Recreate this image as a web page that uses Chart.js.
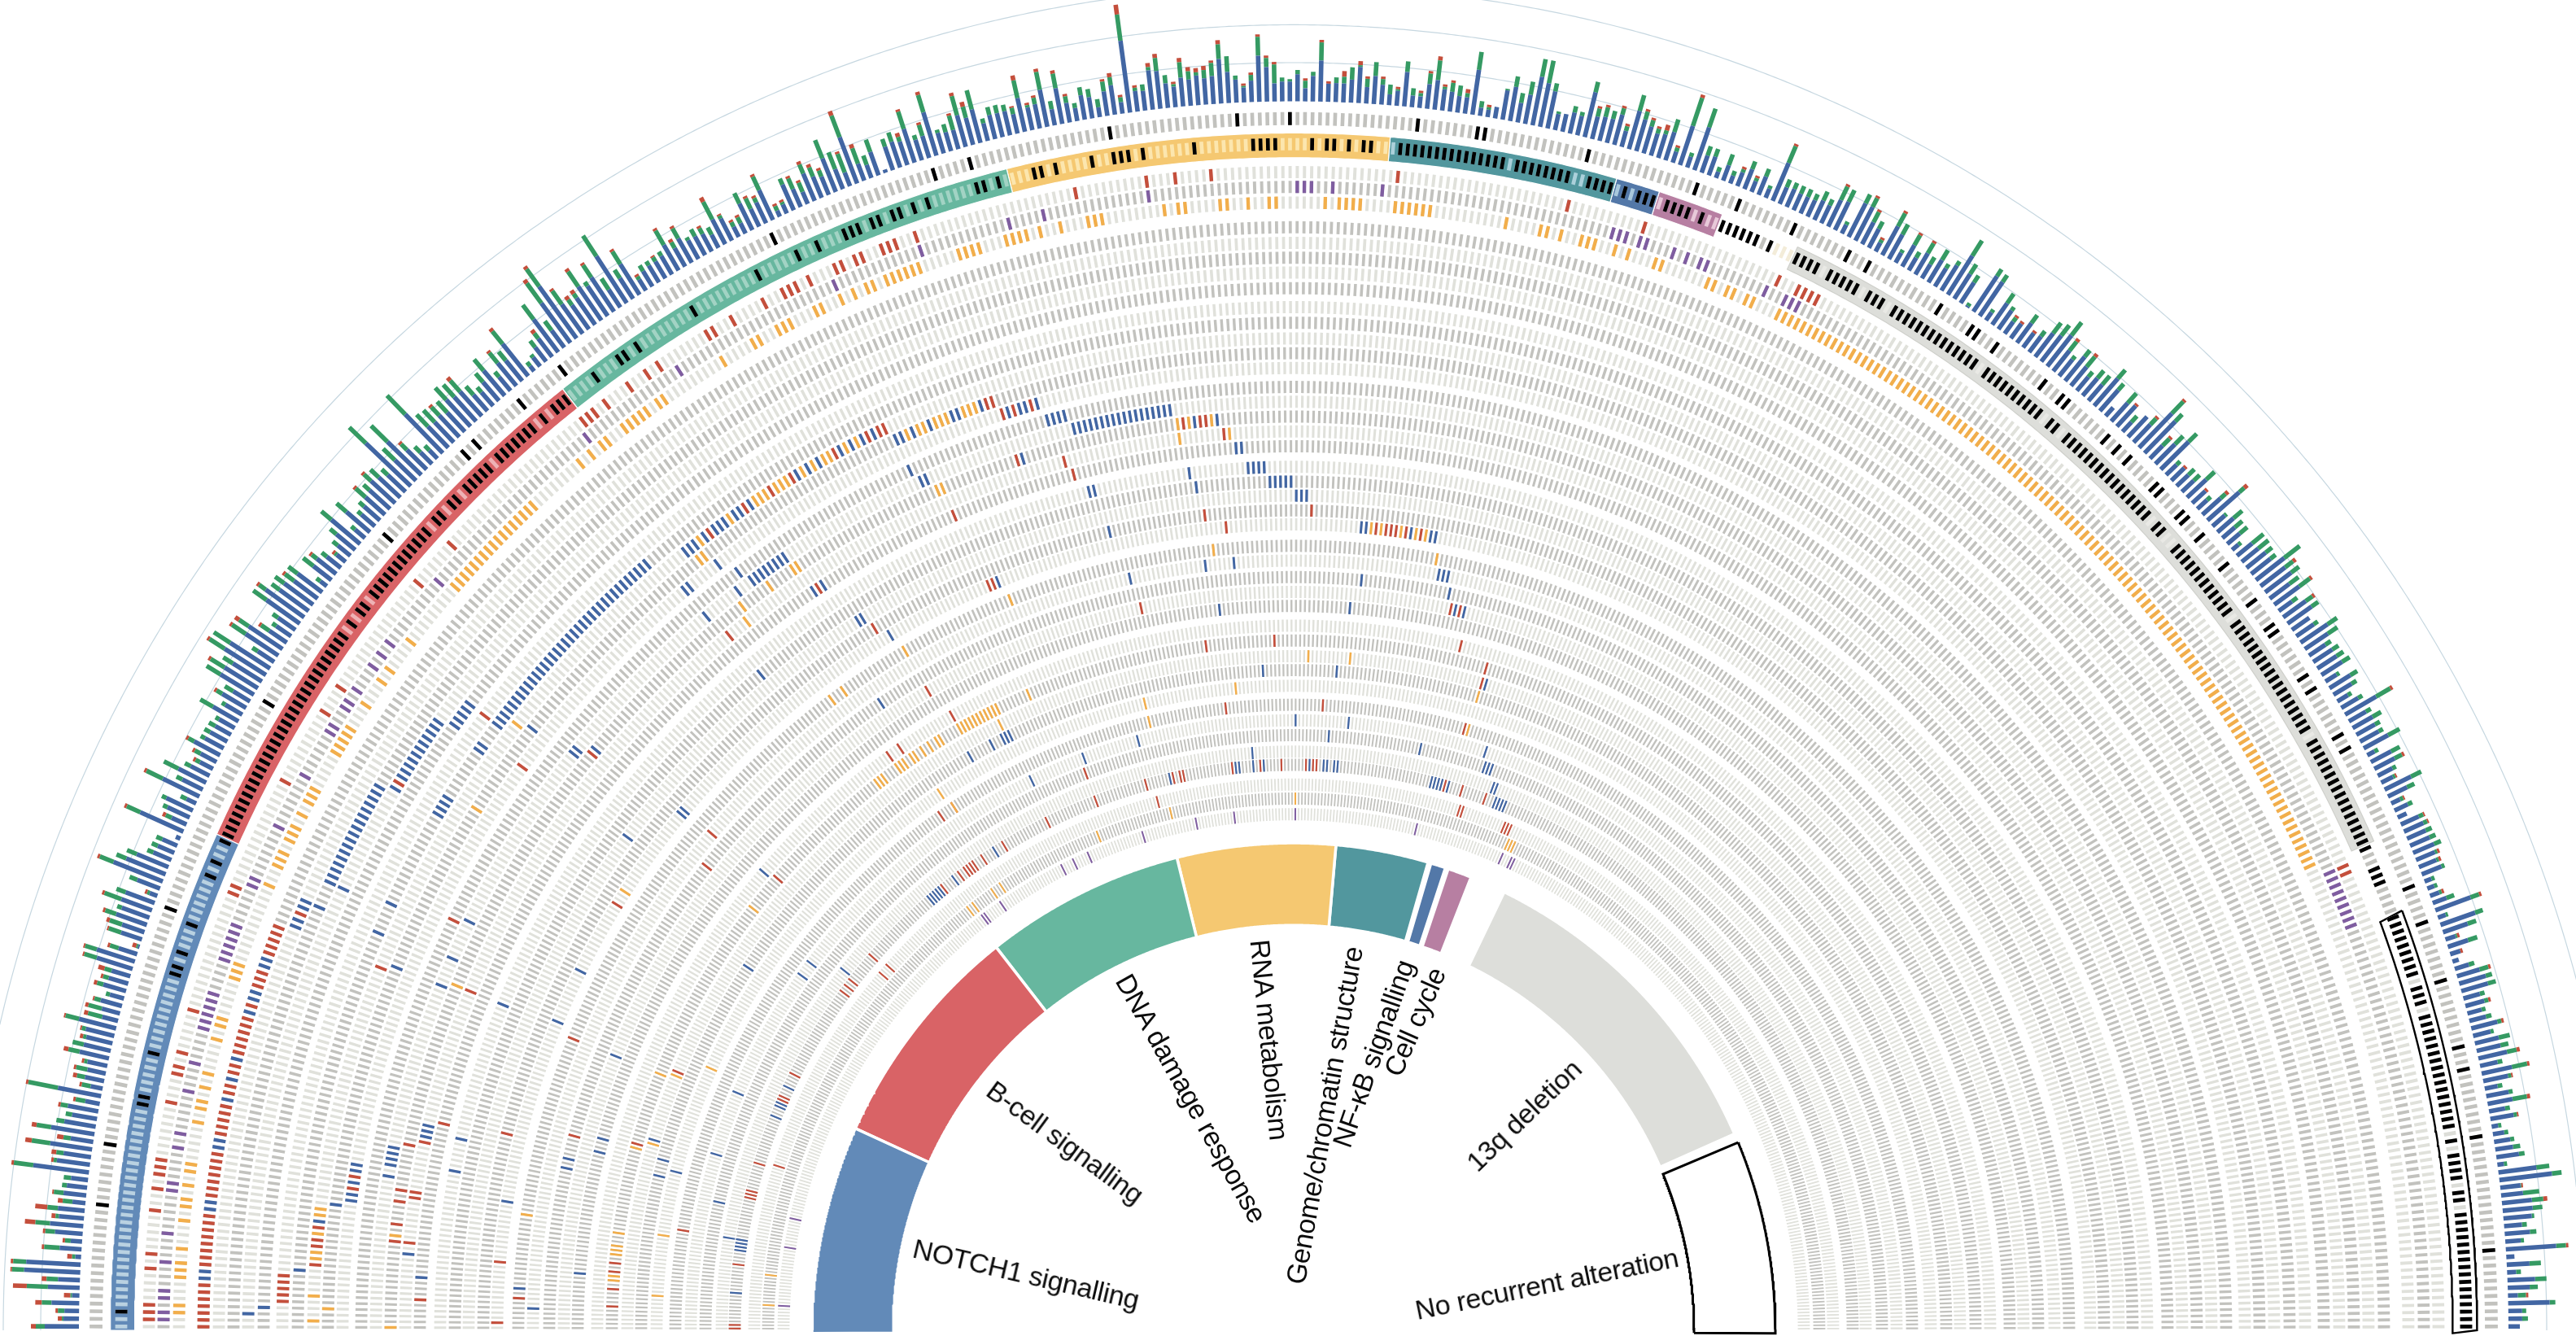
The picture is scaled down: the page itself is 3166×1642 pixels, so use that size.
<!DOCTYPE html>
<html>
<head>
<meta charset="utf-8">
<title>Alterations by pathway</title>
<script src="https://cdn.jsdelivr.net/npm/chart.js@4"></script>
<style>
  html, body { margin: 0; background: #fff; }
  #wrap { position: relative; width: 3166px; height: 1642px; overflow: hidden; }
  canvas { position: absolute; left: 0; top: 0; }
  .lbl { position: absolute; white-space: nowrap; color: #0c0c0c; font: 34px "Liberation Sans", Arial, sans-serif; letter-spacing: -0.4px; }
</style>
</head>
<body>
<div id="wrap"><canvas id="fan" width="3166" height="1642"></canvas></div>
<script>
// ── Data ──────────────────────────────────────────────────────────────────────

const PATIENTS = 500;

// Mutation burden per patient, left to right round the fan
const barsBlue = [
  42,19,18,34,9,39,27,69,67,7,27,14,34,41,31,33,16,28,25,21,
  69,41,34,52,28,54,39,31,38,18,54,15,24,23,25,37,34,33,36,47,
  20,23,27,18,29,25,24,46,49,24,2,27,29,40,36,40,38,10,30,65,
  52,42,24,22,20,6,58,20,30,36,13,50,28,38,26,18,22,36,26,24,
  22,22,36,24,34,24,48,48,42,60,58,24,48,50,26,22,26,50,58,44,
  44,36,38,10,28,30,22,14,20,30,46,16,38,22,26,32,34,40,36,30,
  76,36,58,34,20,14,66,36,34,36,32,44,40,40,26,22,30,40,22,36,
  32,50,8,14,22,28,50,26,60,78,44,36,40,50,44,50,26,68,30,44,
  16,22,24,24,26,36,26,34,26,26,24,18,34,30,14,14,36,24,28,40,
  8,12,34,24,16,36,28,24,44,26,18,60,22,17,30,4,30,33,30,43,
  26,28,55,26,24,24,40,34,42,22,30,30,30,24,42,28,30,46,20,44,
  24,16,30,26,12,30,36,14,88,25,24,48,46,30,25,35,32,36,32,34,
  54,38,28,18,26,56,42,22,24,24,33,16,31,50,22,23,23,28,44,20,
  34,24,13,18,42,14,14,30,36,26,24,20,20,55,10,9,14,36,42,24,
  36,60,54,46,20,22,26,24,56,28,30,30,38,20,48,40,34,28,30,36,
  14,50,14,55,22,24,8,20,10,18,26,14,24,12,50,22,24,22,22,22,
  26,24,36,38,12,46,46,30,26,12,40,34,14,30,18,30,20,32,26,36,
  56,36,30,2,52,50,12,32,28,18,22,30,22,24,36,40,48,32,26,38,
  30,22,28,26,44,34,14,30,34,16,34,30,58,54,22,34,48,18,22,20,
  20,32,22,16,30,52,20,26,20,20,10,24,26,30,30,44,38,40,30,38,
  20,34,36,26,26,40,34,24,28,28,30,16,30,26,15,24,44,24,28,26,
  26,34,10,28,28,20,16,36,26,12,18,12,24,26,25,26,28,25,23,26,
  9,9,12,18,46,10,45,32,13,26,13,8,18,29,34,34,21,24,18,21,
  33,22,30,30,36,22,38,31,16,28,31,20,29,8,14,20,22,28,8,47,
  65,25,27,37,37,35,22,31,19,62,10,28,11,34,27,12,51,17,17,14,
];
const barsGreen = [
  11,2,8,12,2,26,14,15,16,4,19,7,12,18,4,13,12,12,6,9,
  24,4,9,23,9,18,10,8,9,12,37,11,10,14,4,14,14,4,5,17,
  18,17,8,5,8,7,9,16,15,11,2,16,16,14,6,22,12,3,10,18,
  13,13,8,8,8,0,18,8,6,6,8,22,8,20,8,6,8,8,6,8,
  9,5,18,5,8,12,20,20,14,22,24,8,20,14,12,6,8,20,10,12,
  14,14,14,6,16,8,8,3,8,10,16,6,16,6,8,16,10,12,14,10,
  28,20,28,10,10,8,32,20,20,14,18,20,20,18,14,8,14,18,8,16,
  14,20,6,4,10,8,22,14,30,26,20,8,6,22,6,18,16,30,12,18,
  4,8,6,6,6,20,8,14,4,10,8,10,24,4,6,8,14,14,6,18,
  6,3,8,14,12,12,12,8,24,22,24,28,20,12,16,0,10,12,6,22,
  6,14,22,4,10,18,24,14,24,6,10,10,8,8,22,3,8,22,10,18,
  8,6,10,10,10,12,10,6,32,4,8,4,16,10,3,19,10,4,10,16,
  18,19,5,2,7,23,11,23,5,3,5,9,5,22,0,7,8,15,2,10,
  17,7,12,2,13,9,4,13,24,3,11,13,5,22,8,3,0,2,13,12,
  16,22,28,10,3,0,8,5,13,10,12,10,8,6,20,10,8,6,5,16,
  5,36,5,24,12,10,6,14,6,4,10,4,10,4,22,10,8,10,10,8,
  12,8,18,16,4,12,12,14,10,4,18,14,4,14,8,14,10,14,6,6,
  22,14,10,4,10,10,4,14,5,6,0,12,0,8,16,16,20,14,5,10,
  16,8,12,14,14,10,0,16,0,10,0,10,20,12,12,14,14,6,0,10,
  10,14,0,6,8,8,3,14,12,12,4,18,16,10,8,24,12,12,14,16,
  8,10,10,0,6,14,14,8,9,10,11,4,10,7,5,6,20,7,12,7,
  6,16,5,12,10,5,3,14,10,4,6,0,6,5,8,8,9,3,3,4,
  4,4,3,10,11,3,10,11,2,12,0,0,7,11,8,10,6,5,5,7,
  5,4,14,10,12,6,19,4,6,5,18,6,4,4,5,5,9,7,4,16,
  12,1,20,14,12,3,6,8,4,12,0,14,6,14,10,10,7,5,7,0,
];
const barsRed = [
  6,5,3,8,8,17,6,2,3,6,3,3,3,13,5,15,6,2,0,0,
  3,3,6,8,8,6,0,0,3,3,3,3,5,3,3,6,0,4,2,2,
  5,4,2,0,4,3,8,2,2,3,5,2,4,3,0,3,0,3,0,3,
  0,0,0,0,0,0,3,4,0,0,0,3,0,0,0,3,3,3,0,0,
  0,0,0,0,3,0,0,3,0,3,0,0,3,6,3,0,0,0,3,0,
  0,3,0,0,0,3,0,3,0,0,0,0,0,0,0,3,0,3,0,0,
  0,0,0,3,0,0,0,0,0,3,0,0,0,5,0,0,0,0,0,3,
  0,4,0,0,0,5,0,0,5,4,3,5,5,4,0,3,0,0,0,3,
  3,0,0,2,0,3,4,3,0,0,3,0,6,2,3,3,0,3,3,3,
  3,3,0,3,3,4,4,3,0,0,3,6,5,0,0,0,0,0,5,3,
  0,3,4,0,0,3,4,6,0,0,0,0,0,2,6,3,3,4,0,4,
  3,0,0,0,0,3,5,3,12,3,0,5,5,0,3,5,5,5,5,3,
  5,0,0,3,3,3,3,3,0,0,0,3,0,3,3,0,7,0,5,3,
  0,3,0,3,0,0,3,3,5,3,3,0,5,0,0,3,0,0,0,0,
  0,0,0,0,0,0,0,0,0,3,3,0,3,3,0,3,3,3,7,0,
  3,4,0,0,0,0,0,0,0,3,0,3,0,0,3,0,0,0,0,0,
  0,0,3,0,0,0,3,3,0,3,3,0,0,3,0,3,0,0,0,0,
  0,0,0,0,0,0,0,0,0,3,3,0,3,0,0,0,0,4,0,0,
  4,0,0,0,0,0,0,0,3,0,0,3,3,0,3,0,0,0,3,0,
  0,0,3,0,4,5,0,0,0,0,0,0,0,0,0,0,4,0,0,3,
  0,3,0,0,0,0,0,0,0,0,0,0,0,0,0,0,3,0,0,0,
  0,0,0,0,3,0,2,0,0,2,0,0,2,2,0,0,0,3,3,0,
  0,0,3,0,3,0,0,0,3,0,3,0,0,3,0,0,0,3,0,0,
  3,0,0,0,4,0,3,2,0,0,4,0,2,0,0,0,0,0,0,0,
  0,2,0,5,0,0,0,0,0,3,0,0,0,0,0,3,0,0,0,0,
];

// Pathway groups: first and last patient, in the coloured band and in the inner ring
const groupNames  = ['NOTCH1', 'B-cell', 'DNA damage', 'RNA', 'Chromatin', 'NF-kB', 'Cell cycle', '13q', 'None'];
const bandStart   = [0, 68, 144, 211, 263, 294, 300, 320, 443];
const bandEnd     = [68, 144, 211, 263, 294, 300, 309, 433, 500];
const innerStart  = [-1, 68, 144, 211, 264, 296, 302, 322, 437];
const innerEnd    = [68, 144, 211, 264, 295, 301, 310, 434, 501];
const groupColors = ['#628ab8', '#d96366', '#67b79f', '#f5c871', '#52979e', '#5378a8', '#b77fa2', '#dddeda', '#ffffff'];
const groupTints  = ['#b9d1e1', '#eeb2b5', '#a2d3c4', '#fce6ae', '#abd0da', '#a9c8dc', '#e8c9d9', '#e9e9e5', '#dcddd8'];

const sectorLabels = ['NOTCH1 signalling', 'B-cell signalling', 'DNA damage response', 'RNA metabolism',
  'Genome/chromatin structure', 'NF-κB signalling', 'Cell cycle', '13q deletion', 'No recurrent alteration'];
const labelX   = [1261, 1309, 1464, 1560, 1628, 1688, 1739, 1873, 1901];
const labelY   = [1566, 1404, 1350, 1278, 1371, 1295, 1256, 1371, 1578];
const labelRot = [13.1, 36.4, 60.8, 84.4, -80.2, -70.8, -66.6, -43.9, -11.5];

// Black marks: the ring just outside the band, and inside the band.
// [a, b] stands for every patient from a to b.
const outerBlack = [16,24,56,86,113,128,130,138,145,178,201,206,225,242,249,266,274,275,289,304,310,318,326,329,
  340,345,346,349,357,360,361,368,370,372,377,378,382,383,386,391,397,401,402,409,411,418,420,440,445,453,462,465,474,489];
const bandBlack = [2,30,31,37,48,49,51,55,62,64,67,
  [68,99],101,103,104,[106,117],119,120,122,123,[125,129],[131,137],139,[141,143],
  148,152,153,155,164,174,180,183,187,188,189,191,192,194,195,197,199,206,207,209,
  214,215,217,222,225,226,227,229,236,244,245,246,247,252,254,255,257,259,260,
  [264,278],[280,287],[290,293],295,297,298,299,[301,304],306,[309,314],316,
  [320,323],[325,329],[331,333],[335,348],[350,359],361,362,[364,379],381,382,[385,396],[398,415],[417,433],
  436,437,438,[443,451],[453,455],[457,472],474,[476,479],481,482,[484,499]];
const gapGrey  = [315,434,435,439,440,441,442];
const gapFaint = [317,318,319];

// Altered cells, one [row, patients] pair per gene row (row 0 is just inside the band)
const redCells = [
  [0,[1,2,3,8,10,16,19,21,22,23,31,35,36,38,44,61,62,78,89,93,111,118,143,144,145,147,151,154,156,164,165,168,173,176,177,178,180,184,185,187,188,191,192,193,196,219,229,233,238,264,288,299,319,322,323,324,325,434,435]],
  [3,[[0,6],[9,16],[19,25],[28,32],34,35,37,38,[40,45],47,[50,52],[55,59]]],
  [4,[62]], [6,[86]], [8,[[4,8],102]],
  [10,[10,13,14,16,59,148,155,160,164,172,178,180,181]],
  [11,[198,199]], [12,[23,25,99,200,202,205]], [13,[71]],
  [15,[15,18,22,24,32,108,200,230,233,234]],
  [16,[15,23,24,33,61,140,208,237]],
  [17,[5,37,158,186,209]], [21,[38,163,232,253]],
  [22,[1,13,88,187,188,236,266,268,269,270,272,275]],
  [23,[6,60]], [24,[111]], [25,[41,105]], [26,[166,216,284,286]],
  [28,[151,154,168,288]], [29,[5,9,13,15,43,113,229,245,295]], [30,[62,295]],
  [33,[25,153,157,232,257,294]], [35,[192]],
  [37,[0,1,18,37,38,39,47,66,67,74,101,103,105,114,142,148,150,151,152,153,156,163,177,192,207,215,217,218,232,240,246,253,255,256,293,298,305]],
  [38,[48,112,115,209,299,300,313,314,315]],
];
const blueCells = [
  [3,[7,8,17,18,26,27,33,36,39,46,48,49,53,54]],
  [4,[60,61,63,64]], [5,[64,[68,84]]], [6,[2,68,85,[87,97]]], [7,[3,[98,102]]],
  [9,[9,64,69,[85,88],97,98,[102,137]]],
  [10,[17,143,144,145,147,149,150,151,153,154,156,165,167,169,173,175,177,179]],
  [11,[20,60,105,182,183,185,188,192,193,197]],
  [12,[21,22,24,26,27,139,140,146,201,203,204,206]],
  [13,[148,182,[207,210]]],
  [14,[26,28,29,30,31,60,65,72,106,107,139,146,[149,156],183,184,[211,228]]],
  [15,[109,201,232,236]], [16,[13,34,35,36]], [17,[9,157,159,239,240]],
  [18,[29,35,61,211,212,230,[241,244]]], [19,[140,231,[245,249]]],
  [20,[100,161,162,[250,252]]], [21,[213]],
  [22,[25,62,73,110,111,165,189,263,264,273,277,278]], [23,[8]],
  [24,[4,215,231,237,[280,282]]], [25,[34,36,156,264,283]], [26,[60,285,287]],
  [27,[12,39,42,233,262]], [28,[112]], [30,[45,296]],
  [31,[37,41,92,167,173,[176,178],242,260]], [32,[39]],
  [34,[46,63,98,102,178,193,208,250,264,301]], [35,[34,259,284,[302,304]]],
  [36,[25,106,238,306,307]],
  [37,[10,[22,25],61,64,65,70,[137,141],146,160,214,233,234,238,241,254,258,259,261,262,[289,292],294,[308,311]]],
];
const orangeCells = [
  [2,[2,3,7,8,9,11,15,17,18,20,22,23,29,31,32,34,36,41,43,44,50,51,52,64,67,68,69,71,72,73,75,77,78,79,[85,89],93,97,99,104,[114,130],139,141,143,144,147,148,149,150,151,153,154,164,169,170,173,174,175,179,180,183,185,187,188,[190,195],201,202,203,204,208,209,210,211,213,216,220,221,222,231,233,234,239,240,243,246,247,254,256,257,258,259,[264,269],280,285,286,288,291,292,293,296,298,302,303,310,311,313,314,316,317,[321,432]]],
  [10,[1,5,11,12,15,18,19,104,146,152,157,158,159,161,162,163,166,168,170,171,174,176]],
  [11,[3,89,144,145,184,186,187,189,190,191,194,195,196]],
  [15,[0,16,61,145,151,156,157,185,186,229,231,235]],
  [16,[144,229,238]], [22,[91,265,267,271,274,276]],
  [23,[23,148,151,166,190,233,279]],
  [29,[11,12,17,18,19,22,42,60,104,[145,147],[151,153],155,156,158,160,162,163,[168,178],186]],
  [30,[44,61,177,253,263]], [31,[295]], [32,[8,23,66,156,212,235]], [33,[157,212,295]],
  [39,[7,16,144,146,153,156,189,212,250,316,317,318]],
];
const purpleCells = [
  [1,[1,2,4,5,9,13,19,20,25,27,33,37,42,43,44,45,46,47,52,53,54,55,56,57,63,64,72,80,87,88,91,92,94,98,100,102,113,142,158,183,196,209,214,229,250,251,252,255,262,295,296,297,299,300,304,306,308,309,318,321,322,323,[434,442]]],
  [40,[7,25,34,146,147,153,175,179,184,202,219,231,250,288,316,319,320]],
];

// Gene rows, outermost first, and the three reference circles of the bars
const rowRadii = [1407,1389,1370, 1340,1321,1303,1285,1266, 1243,1224,1205,1187,1169, 1146,1128,1110,1092,1074,
  1049,1031,1014,996,979, 953,935,915,897,880, 856,838,819,802,783, 760,741,723,703,687, 663,646,627];
const circleRadii = [1540, 1586, 1633];

// ── Geometry ──────────────────────────────────────────────────────────────────

const CANVAS_W = 3166, CANVAS_H = 1642;
const CENTER_X = 1590, CENTER_Y = 1635, STRETCH_Y = 1.0117;
const BAR_BASE = 1493, OUTER_ROW = 1472, BAND_ROW = 1441;
const BAND_IN = 1424.5, BAND_OUT = 1454.5, INNER_IN = 492, INNER_OUT = 592;
const CELL_LEN = 14.8;
const STEP = 180 / PATIENTS;
const GAP = { x: NaN, y: NaN };
const BAR_WIDTH = 5.6;

const COL = { blue: '#4266a3', green: '#359a63', red: '#c44f3c', orange: '#f2ae4b', purple: '#7f5da0',
  black: '#000000', dark: '#c2c2be', light: '#e0e1db', circle: '#c6d7e0' };

function expand(list) {
  const out = [];
  list.forEach((v) => {
    if (Array.isArray(v)) { for (let i = v[0]; i <= v[1]; i++) out.push(i); }
    else out.push(v);
  });
  return out;
}

function polar(edge, r) {
  const a = (-90 + edge * STEP) * Math.PI / 180;
  return { x: r * Math.sin(a), y: r * Math.cos(a) };
}

// One radial tick. Points go from larger to smaller x so the controller never treats the data as sorted.
function pushTick(points, patient, r0, r1) {
  const a = polar(patient + 0.5, r0);
  const b = polar(patient + 0.5, r1);
  if (a.x > b.x) points.push(a, b, GAP); else points.push(b, a, GAP);
}

function tickWidth(r, share) {
  return r * STEP * Math.PI / 180 * share;
}

function sectorShape(a, b, r0, r1) {
  const pts = [];
  for (let e = a; e <= b; e += 0.5) pts.push(polar(e, r1));
  for (let e = b; e >= a; e -= 0.5) pts.push(polar(e, r0));
  pts.push(polar(a, r1));
  return pts;
}

// ── Datasets (lower order sits on top) ────────────────────────────────────────

const datasets = [];

function addLine(data, color, width, order) {
  datasets.push({ data, borderColor: color, borderWidth: width, order, showLine: true, pointRadius: 0,
    fill: false, spanGaps: false, tension: 0, borderDash: [5000, 0] });
}

function addSector(data, fillColor, edgeColor, width, order) {
  datasets.push({ data, backgroundColor: fillColor, borderColor: edgeColor, borderWidth: width, order,
    showLine: true, pointRadius: 0, fill: 'shape', tension: 0 });
}

// Reference circles
circleRadii.forEach((r) => {
  const pts = [];
  for (let e = 0; e <= PATIENTS; e += 0.5) pts.push(polar(e, r));
  addLine(pts, COL.circle, 1.2, 9);
});

// Inner ring of pathway sectors
groupNames.forEach((name, g) => {
  const isNone = name === 'None';
  addSector(sectorShape(innerStart[g], innerEnd[g], INNER_IN, INNER_OUT), groupColors[g],
    isNone ? '#000000' : '#ffffff', isNone ? 3 : 3.5, 5);
});

// Coloured band
groupNames.forEach((name, g) => {
  const isNone = name === 'None';
  const end = isNone ? bandEnd[g] + 0.4 : bandEnd[g];
  const edge = isNone ? '#000000' : (name === '13q' ? '#cfd0cb' : '#ffffff');
  addSector(sectorShape(bandStart[g], end, BAND_IN, BAND_OUT), groupColors[g], edge, isNone ? 2.4 : 1.2, 5);
  const tint = [];
  for (let i = bandStart[g]; i < bandEnd[g]; i++) pushTick(tint, i, BAND_ROW - CELL_LEN / 2, BAND_ROW + CELL_LEN / 2);
  addLine(tint, groupTints[g], tickWidth(BAND_ROW, 0.52), 4);
});

const gapDark = [], gapPale = [], bandMarks = [];
gapGrey.forEach((i) => pushTick(gapDark, i, BAND_ROW - CELL_LEN / 2, BAND_ROW + CELL_LEN / 2));
gapFaint.forEach((i) => pushTick(gapPale, i, BAND_ROW - CELL_LEN / 2, BAND_ROW + CELL_LEN / 2));
expand(bandBlack).forEach((i) => pushTick(bandMarks, i, BAND_ROW - CELL_LEN / 2, BAND_ROW + CELL_LEN / 2));
addLine(gapDark, COL.dark, tickWidth(BAND_ROW, 0.52), 4);
addLine(gapPale, '#f3ecd9', tickWidth(BAND_ROW, 0.52), 4);
addLine(bandMarks, COL.black, tickWidth(BAND_ROW, 0.52), 3);

// Ring outside the band
const outerGrey = [], outerMarks = [];
for (let i = 0; i < PATIENTS; i++) pushTick(outerGrey, i, OUTER_ROW - CELL_LEN / 2 - 0.5, OUTER_ROW + CELL_LEN / 2 + 0.5);
outerBlack.forEach((i) => pushTick(outerMarks, i, OUTER_ROW - CELL_LEN / 2 - 0.5, OUTER_ROW + CELL_LEN / 2 + 0.5));
addLine(outerGrey, COL.dark, tickWidth(OUTER_ROW, 0.5), 4);
addLine(outerMarks, COL.black, tickWidth(OUTER_ROW, 0.5), 3);

// Gene rows: grey for every patient, alternating row shade
rowRadii.forEach((r, row) => {
  const pts = [];
  for (let i = 0; i < PATIENTS; i++) pushTick(pts, i, r - CELL_LEN / 2, r + CELL_LEN / 2);
  addLine(pts, row % 2 === 0 ? COL.light : COL.dark, tickWidth(r, 0.45), 4);
});

// Altered cells on top of the grey
function addCells(table, color) {
  table.forEach(([row, patients]) => {
    const r = rowRadii[row];
    const pts = [];
    expand(patients).forEach((i) => pushTick(pts, i, r - CELL_LEN / 2, r + CELL_LEN / 2));
    addLine(pts, color, tickWidth(r, 0.5), 3);
  });
}
addCells(purpleCells, COL.purple);
addCells(orangeCells, COL.orange);
addCells(redCells, COL.red);
addCells(blueCells, COL.blue);

// Stacked bars
const barBlue = [], barGreen = [], barRed = [];
barsBlue.forEach((b, i) => {
  const g = barsGreen[i], t = barsRed[i];
  const r0 = BAR_BASE, r1 = r0 + b, r2 = r1 + g, r3 = r2 + t;
  if (b) pushTick(barBlue, i, r0, r1);
  if (g) pushTick(barGreen, i, r1, r2);
  if (t) pushTick(barRed, i, r2, r3);
});
addLine(barBlue, COL.blue, BAR_WIDTH, 2);
addLine(barGreen, COL.green, BAR_WIDTH, 2);
addLine(barRed, COL.red, BAR_WIDTH, 2);

// ── Chart ─────────────────────────────────────────────────────────────────────

new Chart(document.getElementById('fan'), {
  type: 'scatter',
  data: { datasets },
  options: {
    responsive: false,
    animation: false,
    devicePixelRatio: 1,
    events: [],
    layout: { padding: 0 },
    plugins: { legend: { display: false }, tooltip: { enabled: false } },
    scales: {
      x: { type: 'linear', display: false, min: -CENTER_X, max: CANVAS_W - CENTER_X },
      y: { type: 'linear', display: false, min: (CENTER_Y - CANVAS_H) / STRETCH_Y, max: CENTER_Y / STRETCH_Y },
    },
  },
});

// ── Sector labels ─────────────────────────────────────────────────────────────

sectorLabels.forEach((text, i) => {
  const el = document.createElement('div');
  el.className = 'lbl';
  el.textContent = text;
  el.style.left = labelX[i] + 'px';
  el.style.top = labelY[i] + 'px';
  el.style.transform = `translate(-50%, -50%) rotate(${labelRot[i]}deg)`;
  document.getElementById('wrap').appendChild(el);
});
</script>
</body>
</html>
